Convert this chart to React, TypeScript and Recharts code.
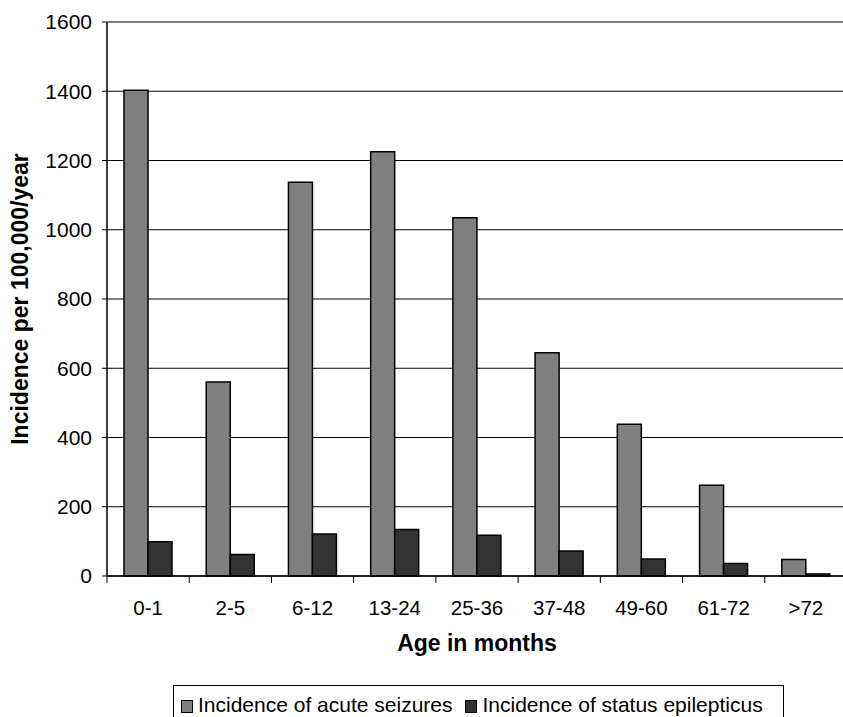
import { BarChart, Bar, XAxis, YAxis, CartesianGrid } from "recharts";

const AGE_GROUPS = ["0-1", "2-5", "6-12", "13-24", "25-36", "37-48", "49-60", "61-72", ">72"];
const ACUTE_SEIZURES = [1403, 560, 1137, 1225, 1035, 645, 438, 262, 48];
const STATUS_EPILEPTICUS = [99, 62, 121, 134, 118, 72, 49, 36, 6];
const Y_TICKS = [0, 200, 400, 600, 800, 1000, 1200, 1400, 1600];

const FONT = '"Liberation Sans", Arial, sans-serif';
const AXIS_W = 107;
const CHART_W = 847;
const BAND = (CHART_W - AXIS_W) / AGE_GROUPS.length;

const data = AGE_GROUPS.map((age, i) => ({
  age,
  acute: ACUTE_SEIZURES[i],
  status: STATUS_EPILEPTICUS[i],
}));

// tick marks sit between categories, like the Excel original
function AgeTick(props: any) {
  const { x, y, payload, index } = props;
  const last = index === AGE_GROUPS.length - 1;
  return (
    <g>
      <line x1={x - BAND / 2} x2={x - BAND / 2} y1={y - 8} y2={y - 1} stroke="#000" strokeWidth={1} />
      {last && <line x1={x + BAND / 2} x2={x + BAND / 2} y1={y - 8} y2={y - 1} stroke="#000" strokeWidth={1} />}
      <text x={x} y={y + 23} textAnchor="middle" dominantBaseline="central" fontSize={20.5} fontFamily={FONT} fill="#000">
        {payload.value}
      </text>
    </g>
  );
}

function LegendBox() {
  const swatch = (color: string) => ({
    display: "inline-block",
    width: 10,
    height: 11,
    background: color,
    border: "1.5px solid #000",
    marginRight: 5,
    verticalAlign: "-1px",
  });
  return (
    <div
      style={{
        position: "absolute",
        left: 173,
        top: 685,
        width: 611,
        height: 45,
        border: "1px solid #000",
        boxSizing: "border-box",
        fontFamily: FONT,
        fontSize: 21,
        lineHeight: "24px",
        color: "#000",
        padding: "7px 0 0 7px",
        whiteSpace: "nowrap",
      }}
    >
      <span style={swatch("#808080")} />
      <span style={{ marginRight: 13 }}>Incidence of acute seizures</span>
      <span style={swatch("#333333")} />
      <span>Incidence of status epilepticus</span>
    </div>
  );
}

export default function App() {
  return (
    <div style={{ position: "absolute", left: 0, top: 0, width: 843, height: 717, background: "#fff", overflow: "hidden" }}>
      <BarChart
        width={CHART_W}
        height={717}
        data={data}
        margin={{ top: 22, right: 0, left: 0, bottom: 61 }}
        barCategoryGap={17}
        barGap={0}
      >
        <CartesianGrid horizontal vertical={false} stroke="#000" strokeWidth={1} />
        <XAxis
          dataKey="age"
          height={80}
          tickLine={false}
          axisLine={{ stroke: "#000", strokeWidth: 1.5 }}
          tick={<AgeTick />}
          interval={0}
          label={{
            value: "Age in months",
            position: "insideBottom",
            offset: 5,
            fontSize: 23,
            fontWeight: "bold",
            fontFamily: FONT,
            fill: "#000",
          }}
        />
        <YAxis
          width={AXIS_W}
          domain={[0, 1600]}
          ticks={Y_TICKS}
          interval={0}
          tickSize={5}
          tickMargin={10}
          axisLine={{ stroke: "#000", strokeWidth: 1.5 }}
          tickLine={{ stroke: "#000" }}
          tick={{ fontFamily: FONT, fontSize: 21, fill: "#000" }}
          label={{
            value: "Incidence per 100,000/year",
            angle: -90,
            position: "insideLeft",
            offset: 20,
            fontSize: 23,
            fontWeight: "bold",
            fontFamily: FONT,
            fill: "#000",
            style: { textAnchor: "middle" },
          }}
        />
        <Bar dataKey="acute" fill="#808080" stroke="#000" strokeWidth={1.5} isAnimationActive={false} />
        <Bar dataKey="status" fill="#333333" stroke="#000" strokeWidth={1.5} isAnimationActive={false} />
      </BarChart>
      <LegendBox />
    </div>
  );
}
